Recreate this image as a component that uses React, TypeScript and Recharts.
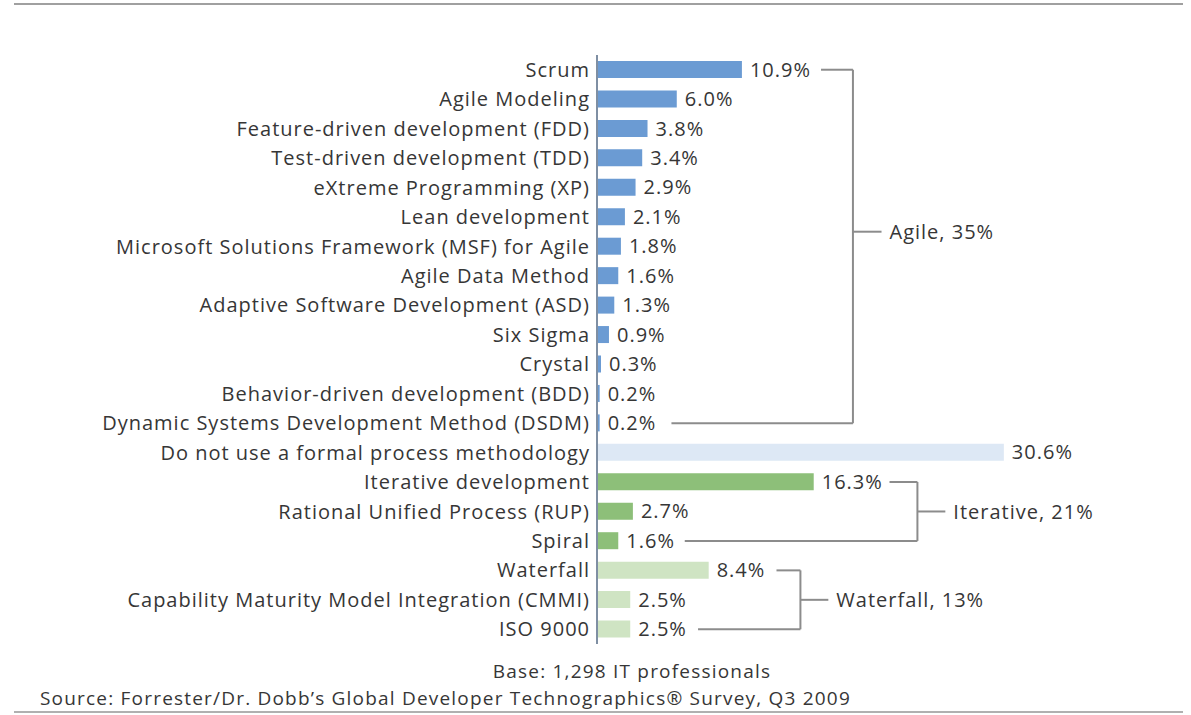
import React from "react";
import { Bar, BarChart, Cell, LabelList, ReferenceLine, XAxis, YAxis } from "recharts";

const categories = [
  "Scrum",
  "Agile Modeling",
  "Feature-driven development (FDD)",
  "Test-driven development (TDD)",
  "eXtreme Programming (XP)",
  "Lean development",
  "Microsoft Solutions Framework (MSF) for Agile",
  "Agile Data Method",
  "Adaptive Software Development (ASD)",
  "Six Sigma",
  "Crystal",
  "Behavior-driven development (BDD)",
  "Dynamic Systems Development Method (DSDM)",
  "Do not use a formal process methodology",
  "Iterative development",
  "Rational Unified Process (RUP)",
  "Spiral",
  "Waterfall",
  "Capability Maturity Model Integration (CMMI)",
  "ISO 9000",
];

const shares = [10.9, 6.0, 3.8, 3.4, 2.9, 2.1, 1.8, 1.6, 1.3, 0.9, 0.3, 0.2, 0.2, 30.6, 16.3, 2.7, 1.6, 8.4, 2.5, 2.5];

// family of each row: agile / none / iterative / waterfall
const groups = [
  "agile", "agile", "agile", "agile", "agile", "agile", "agile", "agile", "agile", "agile", "agile", "agile", "agile",
  "none",
  "iterative", "iterative", "iterative",
  "waterfall", "waterfall", "waterfall",
];

const groupColors: Record<string, string> = {
  agile: "#6b9bd3",
  none: "#dde8f5",
  iterative: "#8dbf79",
  waterfall: "#cfe4c3",
};

// bracket annotations: rows it spans, row (and band edge) of the label tick, x positions in % units
const brackets = [
  { label: "Agile, 35%", first: "Scrum", last: "Dynamic Systems Development Method (DSDM)", mid: "Lean development", midPos: "end", topStart: 16.85, bottomStart: 5.6, spine: 19.25, tickEnd: 21.4 },
  { label: "Iterative, 21%", first: "Iterative development", last: "Spiral", mid: "Rational Unified Process (RUP)", midPos: "middle", topStart: 22.0, bottomStart: 6.6, spine: 24.1, tickEnd: 26.2 },
  { label: "Waterfall, 13%", first: "Waterfall", last: "ISO 9000", mid: "Capability Maturity Model Integration (CMMI)", midPos: "middle", topStart: 13.5, bottomStart: 7.6, spine: 15.3, tickEnd: 17.4 },
];

const data = categories.map((name, i) => ({ name, value: shares[i], group: groups[i] }));

const FONT = "'Open Sans', sans-serif";
const TEXT = "#363636";
const LINE = "#8c8c8c";
const textStyle = { fill: TEXT, fontSize: 20, fontFamily: FONT, letterSpacing: 1 };

export default function App() {
  return (
    <div style={{ position: "absolute", left: 0, top: 0, width: 1191, height: 715, background: "#fff", fontFamily: FONT }}>
      <div style={{ position: "absolute", left: 14, top: 3, width: 1169, height: 2, background: "#a0a0a0" }} />
      <BarChart
        width={1191}
        height={715}
        data={data}
        layout="vertical"
        margin={{ top: 55, right: 9, left: 0, bottom: 71 }}
        barCategoryGap={0}
      >
        <XAxis type="number" domain={[0, 44]} hide />
        <YAxis
          type="category"
          dataKey="name"
          width={597}
          tickLine={false}
          tickSize={0}
          tickMargin={7}
          interval={0}
          axisLine={{ stroke: "#7f8fa3", strokeWidth: 2 }}
          tick={textStyle}
        />
        <Bar dataKey="value" barSize={17} isAnimationActive={false}>
          {data.map((d) => (
            <Cell key={d.name} fill={groupColors[d.group]} />
          ))}
          <LabelList
            dataKey="value"
            position="right"
            offset={8}
            style={textStyle}
            formatter={(v: unknown) => (typeof v === "number" ? `${v.toFixed(1)}%` : String(v))}
          />
        </Bar>
        {brackets.map((b) => [
          <ReferenceLine
            key={b.label + "top"}
            stroke={LINE}
            strokeWidth={2}
            ifOverflow="visible"
            segment={[{ x: b.topStart, y: b.first }, { x: b.spine, y: b.first }]}
          />,
          <ReferenceLine
            key={b.label + "spine"}
            stroke={LINE}
            strokeWidth={2}
            ifOverflow="visible"
            segment={[{ x: b.spine, y: b.first }, { x: b.spine, y: b.last }]}
          />,
          <ReferenceLine
            key={b.label + "bottom"}
            stroke={LINE}
            strokeWidth={2}
            ifOverflow="visible"
            segment={[{ x: b.bottomStart, y: b.last }, { x: b.spine, y: b.last }]}
          />,
          <ReferenceLine
            key={b.label + "mid"}
            stroke={LINE}
            strokeWidth={2}
            ifOverflow="visible"
            position={b.midPos as "end" | "middle"}
            segment={[{ x: b.spine, y: b.mid }, { x: b.tickEnd, y: b.mid }]}
            label={{ value: b.label, position: "right", offset: 8, ...textStyle }}
          />,
        ])}
      </BarChart>
      <div style={{ position: "absolute", left: 0, width: 1264, top: 658, lineHeight: "26px", textAlign: "center", fontSize: 19, letterSpacing: 1.2, color: TEXT }}>
        Base: 1,298 IT professionals
      </div>
      <div style={{ position: "absolute", left: 40, top: 685, lineHeight: "26px", fontSize: 19, letterSpacing: 1.2, color: TEXT, whiteSpace: "nowrap" }}>
        Source: Forrester/Dr. Dobb’s Global Developer Technographics® Survey, Q3 2009
      </div>
      <div style={{ position: "absolute", left: 14, top: 711, width: 1169, height: 2, background: "#b0b0b0" }} />
    </div>
  );
}
